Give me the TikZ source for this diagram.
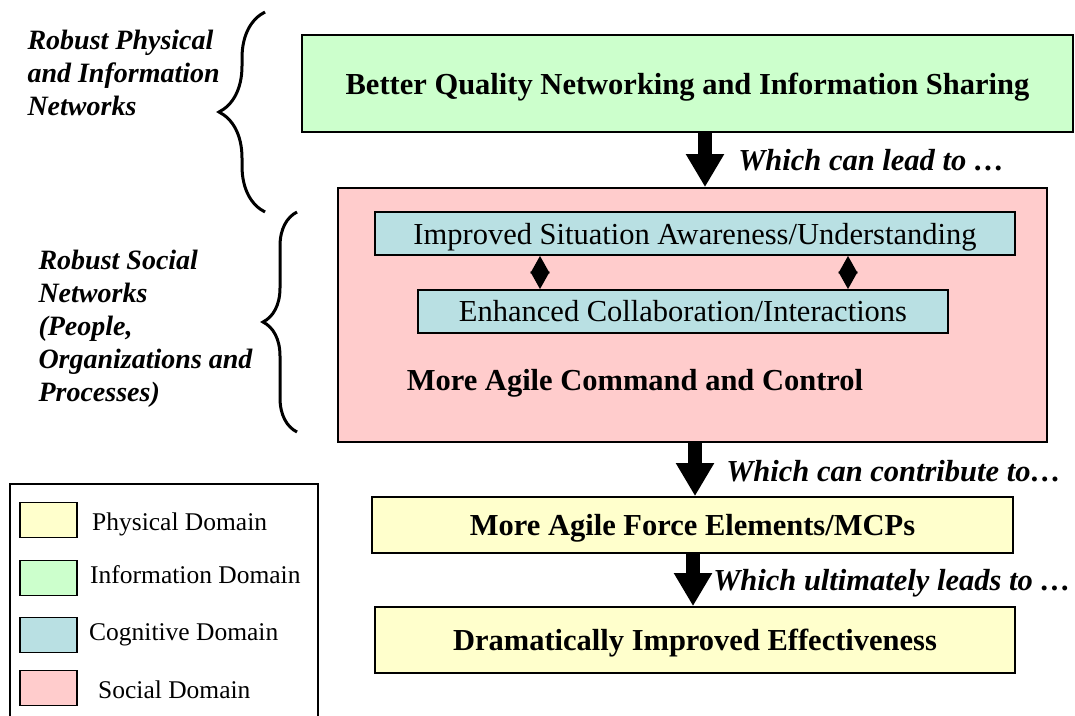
\documentclass[tikz,border=0pt]{standalone}
\usepackage{fontspec}
\setmainfont{Liberation Serif}
\usetikzlibrary{arrows.meta, positioning, decorations.pathreplacing}
\definecolor{infogreen}{HTML}{CCFFCC}
\definecolor{socialpink}{HTML}{FFCCCC}
\definecolor{cogcyan}{HTML}{B9E0E3}
\definecolor{physyellow}{HTML}{FFFFCC}

\begin{document}
\begin{tikzpicture}[x=1pt, y=-1pt, font=\fontsize{30.5}{36}\selectfont]
    \useasboundingbox (0,0) rectangle (1075,715);
    \tikzset{
        domainbox/.style={draw, line width=1.8pt, inner sep=0pt, align=center, text depth=0pt},
        bigarrow/.style={line width=14pt, -{Triangle[length=33pt, width=36pt]}},
        smallarrow/.style={line width=2pt, {Triangle[length=17.5pt, width=19pt]}-{Triangle[length=17.5pt, width=19pt]}},
        flowlabel/.style={anchor=west, font=\fontsize{30.5}{36}\selectfont\bfseries\itshape},
        sidelabel/.style={anchor=west, align=left, font=\fontsize{28}{33}\selectfont\bfseries\itshape},
        legendbox/.style={draw, line width=1.8pt, minimum width=57pt, minimum height=35pt},
        legendtext/.style={anchor=west, inner sep=0pt, font=\fontsize{25.5}{30}\selectfont},
        bracket/.style={decorate, line width=3pt}
    }
    % Domain blocks
    \node (info) [domainbox, fill=infogreen, minimum width=771pt, minimum height=97pt] at (687.5,83.5) {\bfseries Better Quality Networking and Information Sharing};
    \node (social) [domainbox, fill=socialpink, minimum width=709pt, minimum height=254pt] at (692.5,315) {};
    \node (aware) [domainbox, fill=cogcyan, minimum width=640pt, minimum height=43pt] at (695,233.5) {Improved Situation Awareness/Understanding};
    \node (collab) [domainbox, fill=cogcyan, minimum width=530pt, minimum height=43pt, text depth=] at (683,311.5) {Enhanced Collaboration/Interactions};
    \node (c2) [inner sep=0pt] at (635,383) {\bfseries More Agile Command and Control};
    \node (force) [domainbox, fill=physyellow, minimum width=641pt, minimum height=56pt] at (692.5,525) {\bfseries More Agile Force Elements/MCPs};
    \node (effect) [domainbox, fill=physyellow, minimum width=640pt, minimum height=66pt] at (695,640) {\bfseries Dramatically Improved Effectiveness};
    % Flow arrows between the blocks
    \draw[bigarrow] ([xshift=17.5pt]info.south) -- ([xshift=12.5pt]social.north) node[midway, flowlabel, xshift=23pt] {Which can lead to …};
    \draw[bigarrow] ([xshift=2.5pt]social.south) -- ([xshift=2.5pt]force.north) node[midway, flowlabel, xshift=21pt, yshift=-2pt] {Which can contribute to…};
    \draw[bigarrow] ([xshift=0.5pt]force.south) -- ([xshift=-2pt]effect.north) node[midway, flowlabel, xshift=10pt, yshift=-3pt] {Which ultimately leads to …};
    \draw[smallarrow] ([xshift=-155pt]aware.south) -- ([xshift=-143pt]collab.north);
    \draw[smallarrow] ([xshift=153pt]aware.south) -- ([xshift=165pt]collab.north);
    % Braces and network labels
    \coordinate (brace1bot) at (265,212);
    \coordinate (brace1top) at (265,12);
    \coordinate (brace2bot) at (297,432);
    \coordinate (brace2top) at (297,212);
    \draw[bracket, decoration={brace, amplitude=46pt}] (brace1bot) -- (brace1top);
    \draw[bracket, decoration={brace, amplitude=34pt}] (brace2bot) -- (brace2top);
    \node (physnet) [sidelabel] at (24,73) {Robust Physical\\and Information\\Networks};
    \node (socnet) [sidelabel] at (35,329) {Robust Social\\Networks\\(People,\\Organizations and\\Processes)};
    % Legend
    \draw[line width=1.5pt] (10,716) -- (10,484) -- (318,484) -- (318,716);
    \node (legphys) [legendbox, fill=physyellow] at (48.5,520) {};
    \node (leginfo) [legendbox, fill=infogreen] at (48.5,578) {};
    \node (legcog) [legendbox, fill=cogcyan] at (48.5,635) {};
    \node (legsoc) [legendbox, fill=socialpink] at (48.5,688) {};
    \node [legendtext] at (92,524) {Physical Domain};
    \node [legendtext] at (90,575) {Information Domain};
    \node [legendtext] at (89,635) {Cognitive Domain};
    \node [legendtext] at (98,690) {Social Domain};
\end{tikzpicture}
\end{document}
